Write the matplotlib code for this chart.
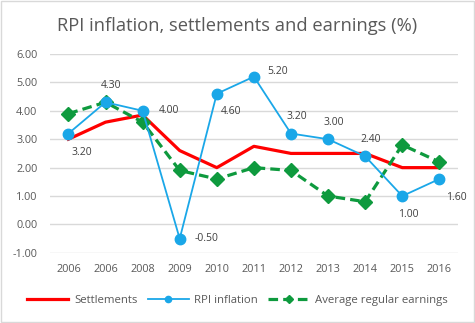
import matplotlib.pyplot as plt
from matplotlib.patches import Rectangle

years = ['2006', '2006', '2008', '2009', '2010', '2011', '2012', '2013', '2014', '2015', '2016']
settlements = [3.0, 3.6, 3.85, 2.6, 2.0, 2.75, 2.5, 2.5, 2.5, 2.0, 2.0]
rpi = [3.2, 4.3, 4.0, -0.5, 4.6, 5.2, 3.2, 3.0, 2.4, 1.0, 1.6]
earnings = [3.9, 4.3, 3.6, 1.9, 1.6, 2.0, 1.9, 1.0, 0.8, 2.8, 2.2]

# label offsets in points (dx, dy) for each RPI point
offsets = [(10, -14), (4, 12), (19, 0), (19, 0), (10, -13), (17, 4),
           (4, 12), (4, 12), (4, 12), (4, -13), (12, -13)]

plt.rcParams['font.family'] = ['Open Sans', 'DejaVu Sans']

fig = plt.figure(figsize=(4.75, 3.23), dpi=100)
fig.patches.append(Rectangle((0.002, 0.003), 0.995, 0.993, transform=fig.transFigure,
                             fill=False, edgecolor='#d9d9d9', linewidth=1))
ax = fig.add_axes([0.105, 0.217, 0.859, 0.616])

x = range(len(years))
ax.plot(x, settlements, color='#ff0000', linewidth=2.3, label='Settlements', zorder=3)
ax.plot(x, rpi, color='#1aa7e8', linewidth=1.3, marker='o', markersize=7.5,
        label='RPI inflation', zorder=4)
ax.plot(x, earnings, color='#0e9a3e', linewidth=2.3, linestyle=(0, (3, 1.6)), marker='D',
        markersize=7.5, label='Average regular earnings', zorder=3)

for i, v in enumerate(rpi):
    ax.annotate(f'{v:.2f}', (i, v), xytext=offsets[i], textcoords='offset points',
                ha='center', va='center', fontsize=7.5, color='#404040')

ax.set_xlim(-0.5, len(years) - 0.5)
ax.set_ylim(-1, 6)
ax.set_yticks(range(-1, 7))
ax.set_yticklabels([f'{t:.2f}' for t in range(-1, 7)])
ax.set_xticks(list(x))
ax.set_xticklabels(years)
ax.tick_params(length=0, labelsize=7.8, colors='#595959', pad=8)
ax.tick_params(axis='y', pad=9)
ax.grid(axis='y', color='#d9d9d9', linewidth=1)
ax.set_axisbelow(True)
for s in ax.spines.values():
    s.set_visible(False)

fig.text(0.5, 0.918, 'RPI inflation, settlements and earnings (%)', ha='center', va='center',
         fontsize=13.2, color='#595959')

fig.legend(loc='center', bbox_to_anchor=(0.5, 0.07), ncol=3, frameon=False, fontsize=8.2,
           handlelength=3.6, columnspacing=0.9, handletextpad=0.5, markerscale=0.6,
           labelcolor='#595959')

fig.savefig('out.png', dpi=100)
